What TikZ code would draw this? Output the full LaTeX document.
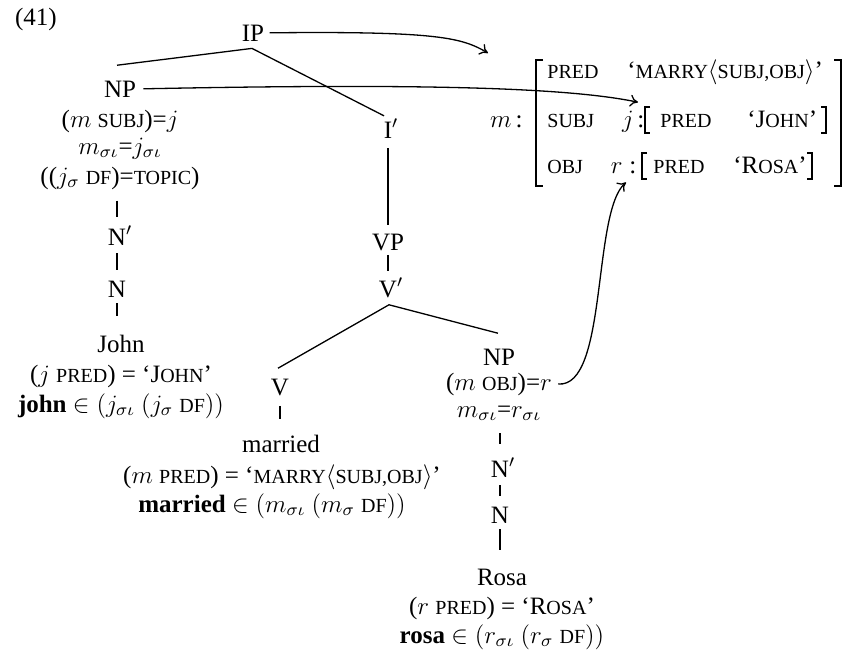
\RequirePackage{fix-cm}
\documentclass[tikz,border=0pt]{standalone}
\usepackage{fontspec}
\setmainfont{Liberation Serif}
\usetikzlibrary{calc,arrows.meta}
\newcommand{\fsc}[1]{{\fontsize{10}{12}\selectfont #1}}
\begin{document}
\begin{tikzpicture}[x=0.5pt,y=-0.5pt,
  font=\fontsize{12.5}{15}\selectfont,
  lab/.style={inner sep=0pt, anchor=base},
  tree/.style={line width=0.65pt},
  arr/.style={line width=0.65pt,-{To[length=4pt,width=6pt]}},
  bigbr/.style={line width=0.9pt},
  smallbr/.style={line width=0.7pt}]
\useasboundingbox (0,0) rectangle (843,660);
% ---- example number
\node[lab] (ex) at (36,25) {(41)};
% ---- c-structure: top
\node[lab] (ip) at (253,41) {IP};
\node[lab] (npj) at (120,97) {NP};
\node[lab] (subj) at (120,127) {($m$ \fsc{SUBJ})=$j$};
\node[lab] (jsig) at (120,154) {$m_{\sigma\iota}$=$j_{\sigma\iota}$};
\node[lab] (topic) at (120,184) {(($j_\sigma$ \fsc{DF})=\fsc{TOPIC})};
\node[lab] (nbj) at (117,245) {N\rlap{$'$}};
\node[lab] (nj) at (117,297) {N};
\node[lab] (john) at (121,352) {John};
\node[lab] (jpred) at (121,382) {($j$ \fsc{PRED}) = `J\fsc{OHN}'};
\node[lab] (jlex) at (121,412) {\textbf{john} $\in (j_{\sigma\iota}\ (j_\sigma\ \mbox{\fsc{DF}}))$};
% ---- middle
\node[lab] (ibar) at (388,138) {I\rlap{$'$}};
\node[lab] (vp) at (388,250) {VP};
\node[lab] (vbar) at (388,297) {V\rlap{$'$}};
\node[lab] (v) at (280,395) {V};
\node[lab] (married) at (281,452) {married};
\node[lab] (mpred) at (282,483) {($m$ \fsc{PRED}) = `\fsc{MARRY}$\langle$\fsc{SUBJ,OBJ}$\rangle$'};
\node[lab] (mlex) at (272,512) {\textbf{married} $\in (m_{\sigma\iota}\ (m_\sigma\ \mbox{\fsc{DF}}))$};
% ---- right
\node[lab] (npr) at (499,365) {NP};
\node[lab] (mobj) at (499,390) {($m$ \fsc{OBJ})=$r$};
\node[lab] (rsig) at (499,417) {$m_{\sigma\iota}$=$r_{\sigma\iota}$};
\node[lab] (nbr) at (500,477) {N\rlap{$'$}};
\node[lab] (nr) at (500,523) {N};
\node[lab] (rosa) at (502,585) {Rosa};
\node[lab] (rpred) at (502,614) {($r$ \fsc{PRED}) = `R\fsc{OSA}'};
\node[lab] (rlex) at (502,643) {\textbf{rosa} $\in (r_{\sigma\iota}\ (r_\sigma\ \mbox{\fsc{DF}}))$};
% ---- tree lines
\draw[tree] ($(npj.north)+(-3,-15)$) -- ($(ip.south)+(-1,7)$) -- ($(ibar.north)+(-4,-3)$);
\draw[tree] ($(topic.south -| nbj.north)+(0,11)$) -- ($(nbj.north)+(0,-9)$);
\draw[tree] ($(nbj.south)+(0,8)$) -- ($(nj.north)+(0,-10)$);
\draw[tree] ($(nj.south)+(0,6)$) -- ($(john.north -| nj.south)+(0,-18)$);
\draw[tree] ($(ibar.south)+(0,10)$) -- ($(vp.north)+(0,-8)$);
\draw[tree] ($(vp.south)+(0,4)$) -- ($(vp.south)+(0,20)$) coordinate (vpend);
\draw[tree] ($(v.north)+(-2,-10)$) -- ($(vbar.south)+(1,7)$) -- ($(npr.north)+(-1,-15)$);
\draw[tree] ($(v.south)+(0,10)$) -- ($(married.north -| v.south)+(0,-15)$);
\draw[tree] ($(rsig.south -| nbr.north)+(0,12)$) -- ($(nbr.north)+(0,-14)$);
\draw[tree] ($(nbr.south)+(0,8)$) -- ($(nr.north)+(0,-10)$);
\draw[tree] ($(nr.south)+(0,6)$) -- ($(rosa.north -| nr.south)+(0,-18)$);
% ---- f-structure
\node[lab, anchor=base east] (mlab) at (523,127) {$m$\,:};
\draw[bigbr] (543,60) -- (536,60) -- (536,186) -- (543,186);
\draw[bigbr] (834,60) -- (841,60) -- (841,186) -- (834,186);
\node[lab, anchor=base west] (pred1) at (547,78) {\fsc{PRED}};
\node[lab, anchor=base west] (marry) at (627,78) {`\fsc{MARRY}$\langle$\fsc{SUBJ,OBJ}$\rangle$'};
\node[lab, anchor=base west] (subjf) at (547,127) {\fsc{SUBJ}};
\node[lab, anchor=base east] (jv) at (634,127) {$j$};
\node[lab, anchor=base west] at (637,127) {:};
\draw[smallbr] (650,107) -- (645,107) -- (645,133) -- (650,133);
\node[lab, anchor=base west] (pred2) at (660,127) {\fsc{PRED}};
\node[lab, anchor=base west] (johnf) at (747,127) {`J\fsc{OHN}'};
\draw[smallbr] (821,107) -- (826,107) -- (826,133) -- (821,133);
\node[lab, anchor=base west] (objf) at (547,173) {\fsc{OBJ}};
\node[lab, anchor=base east] (rv) at (623,173) {$r$};
\node[lab, anchor=base west] at (629,173) {:};
\draw[smallbr] (647,153) -- (642,153) -- (642,179) -- (647,179);
\node[lab, anchor=base west] (pred3) at (653,173) {\fsc{PRED}};
\node[lab, anchor=base west] (rosaf) at (733,173) {`R\fsc{OSA}'};
\draw[smallbr] (807,153) -- (812,153) -- (812,179) -- (807,179);
% ---- arrows
\coordinate (mtarget) at (488,53);
\draw[arr] ($(ip.east)+(5,0)$) .. controls (440,31) and (462,38) .. (mtarget);
\draw[arr] ($(npj.east)+(7,0)$) .. controls (430,83) and (570,88) .. ($(jv.north east)+(4,-8)$);
\draw[arr] ($(mobj.east)+(6,0)$) .. controls (608,388) and (592,212) .. ($(rv.south east)+(3,9)$);
\end{tikzpicture}
\end{document}
